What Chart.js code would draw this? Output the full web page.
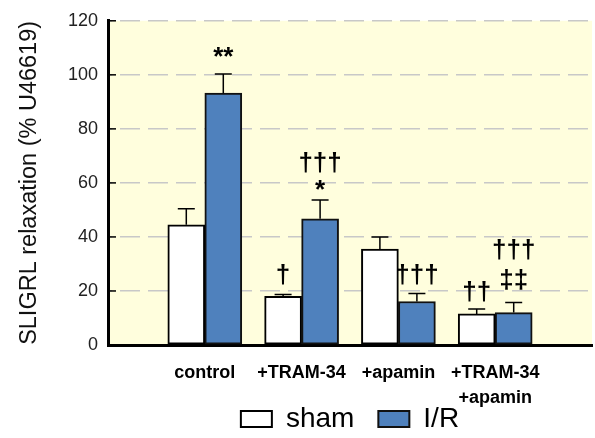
<!DOCTYPE html>
<html>
<head>
<meta charset="utf-8">
<script src="https://cdn.jsdelivr.net/npm/chart.js@4"></script>
<style>
  html, body { margin: 0; padding: 0; background: #ffffff; }
  #wrap { width: 595px; height: 438px; position: relative; }
</style>
</head>
<body>
<div id="wrap"><canvas id="c" width="595" height="438"></canvas></div>
<script>
// ---- data ----
const categories = ['', 'control', '+TRAM-34', '+apamin', ['+TRAM-34', '+apamin'], ''];
const seriesNames = ['sham', 'I/R'];
const shamValues = [null, 44.5, 18.0, 35.5, 11.5, null];
const irValues   = [null, 93.2, 46.7, 16.1, 12.0, null];
const shamErrors = [null, 5.9, 0.7, 4.5, 1.8, null];
const irErrors   = [null, 7.1, 7.0, 3.0, 3.7, null];
const yTicks = [0, 20, 40, 60, 80, 100, 120];
const yTitle = 'SLIGRL relaxation (% U46619)';
// significance marks: category index, series index, text, value (baseline level)
const markCategory = [1, 2, 2, 2, 3, 4, 4, 4];
const markSeries   = [1, 1, 1, 0, 1, 0, 1, 1];
const markText     = ['**', '\u2020\u2020\u2020', '*', '\u2020', '\u2020\u2020\u2020', '\u2020\u2020', '\u2020\u2020\u2020', '\u2021\u2021'];
const markLevel    = [103.6, 64.5, 54.3, 22.9, 22.9, 16.5, 32.2, 21.2];

const errorSets = [shamErrors, irErrors];
const FONT = '"Liberation Sans", Arial, Helvetica, sans-serif';

const bgPlugin = {
  id: 'bg',
  beforeDraw(chart) {
    const {ctx, chartArea: a} = chart;
    ctx.save();
    ctx.fillStyle = '#FFFEDD';
    ctx.fillRect(a.left, a.top, a.right - a.left, a.bottom - a.top);
    ctx.restore();
  },
  afterLayout(chart) {
    // let the two-line category labels draw below the axis box without clipping
    const x = chart.scales.x;
    x.bottom = x.top + 62;
  }
};

const errPlugin = {
  id: 'errbars',
  afterDatasetsDraw(chart) {
    const {ctx} = chart;
    const y = chart.scales.y;
    ctx.save();
    ctx.strokeStyle = '#000';
    ctx.lineWidth = 1.5;
    chart.data.datasets.forEach((ds, di) => {
      const meta = chart.getDatasetMeta(di);
      meta.data.forEach((bar, i) => {
        const v = ds.data[i];
        const e = errorSets[di][i];
        if (v == null || e == null) return;
        const yTop = y.getPixelForValue(v + e);
        const yBar = y.getPixelForValue(v);
        ctx.beginPath();
        ctx.moveTo(bar.x, yBar);
        ctx.lineTo(bar.x, yTop);
        ctx.moveTo(bar.x - 8.5, yTop);
        ctx.lineTo(bar.x + 8.5, yTop);
        ctx.stroke();
      });
    });
    ctx.fillStyle = '#000';
    ctx.font = 'bold 26px ' + FONT;
    ctx.textAlign = 'center';
    ctx.textBaseline = 'alphabetic';
    markText.forEach((t, k) => {
      const bar = chart.getDatasetMeta(markSeries[k]).data[markCategory[k]];
      ctx.fillText(t, bar.x, y.getPixelForValue(markLevel[k]));
    });
    ctx.restore();
  },
  afterDraw(chart) {
    // short inward tick marks on the value axis
    const {ctx, chartArea: a} = chart;
    const y = chart.scales.y;
    ctx.save();
    ctx.strokeStyle = '#000';
    ctx.lineWidth = 1.5;
    y.ticks.forEach(t => {
      const py = y.getPixelForValue(t.value);
      ctx.beginPath();
      ctx.moveTo(a.left, py);
      ctx.lineTo(a.left + 8, py);
      ctx.stroke();
    });
    ctx.restore();
  }
};

new Chart(document.getElementById('c'), {
  type: 'bar',
  data: {
    labels: categories,
    datasets: [
      { label: seriesNames[0], data: shamValues, backgroundColor: '#FFFFFF', borderColor: '#000000', borderWidth: 2, borderSkipped: false, barThickness: 37 },
      { label: seriesNames[1], data: irValues, backgroundColor: '#4F81BD', borderColor: '#111111', borderWidth: 2, borderSkipped: false, barThickness: 37 }
    ]
  },
  options: {
    responsive: false,
    animation: false,
    devicePixelRatio: 1,
    layout: { padding: { top: 17, right: 0, left: 0, bottom: -5 } },
    plugins: {
      legend: {
        position: 'bottom',
        fullSize: false,
        labels: {
          boxWidth: 31, boxHeight: 16, padding: 24,
          color: '#000',
          font: { family: FONT, size: 28 }
        }
      },
      tooltip: { enabled: false }
    },
    scales: {
      x: {
        offset: false,
        grid: { display: false },
        border: { display: true, color: '#000', width: 3 },
        ticks: {
          autoSkip: false, maxRotation: 0, minRotation: 0, padding: 7,
          color: '#000',
          font: { family: FONT, size: 18, weight: 'bold', lineHeight: 1.4 }
        },
        afterFit(scale) { scale.height = 36; scale.paddingRight = 3; scale.paddingLeft = 0; }
      },
      y: {
        min: 0, max: 120,
        afterBuildTicks(scale) { scale.ticks = yTicks.map(v => ({ value: v })); },
        grid: {
          color: ctx => (ctx.tick && ctx.tick.value === 0) ? 'rgba(0,0,0,0)' : '#C8C8C8',
          lineWidth: 1.5,
          drawTicks: false
        },
        border: { display: true, color: '#000', width: 3, dash: [20, 8], dashOffset: 18 },
        ticks: {
          padding: 10, color: '#222',
          font: { family: FONT, size: 18 }
        },
        title: {
          display: true, text: yTitle, color: '#111',
          padding: { top: 15, bottom: 0 },
          font: { family: FONT, size: 23.5 }
        },
        afterFit(scale) { scale.width = 108; }
      }
    }
  },
  plugins: [bgPlugin, errPlugin]
});
</script>
</body>
</html>
